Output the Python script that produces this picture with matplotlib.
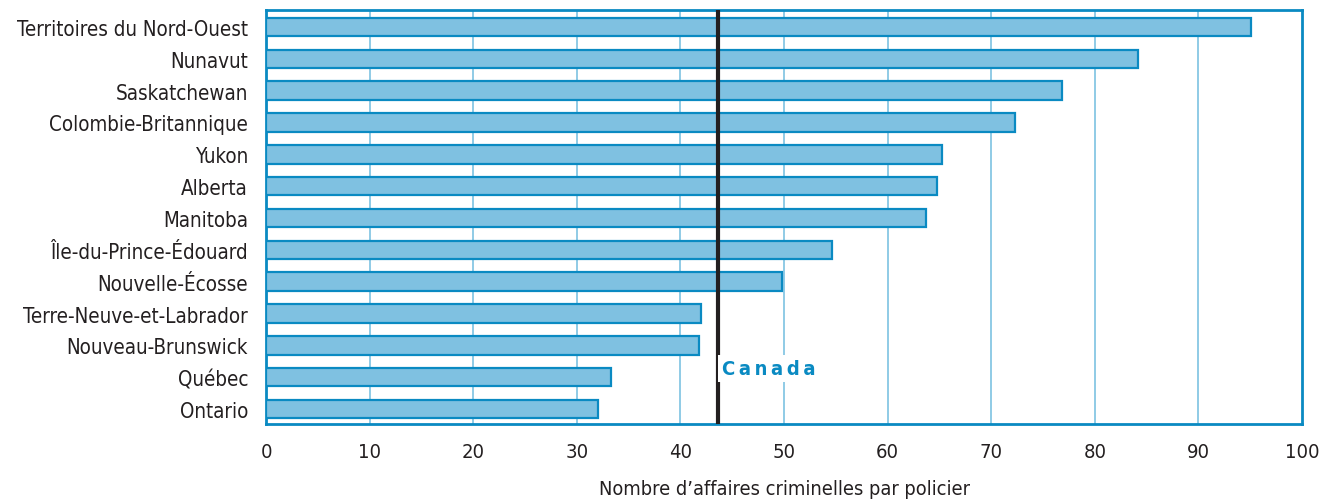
import matplotlib
matplotlib.use("Agg")
import matplotlib.pyplot as plt
from matplotlib import font_manager

provinces = [
    "Territoires du Nord-Ouest", "Nunavut", "Saskatchewan", "Colombie-Britannique",
    "Yukon", "Alberta", "Manitoba", "Île-du-Prince-Édouard", "Nouvelle-Écosse",
    "Terre-Neuve-et-Labrador", "Nouveau-Brunswick", "Québec", "Ontario",
]
cases_per_officer = [95.1, 84.2, 76.8, 72.3, 65.2, 64.8, 63.7, 54.6, 49.8, 42.0, 41.8, 33.3, 32.0]
canada_value = 43.6
x_ticks = [0, 10, 20, 30, 40, 50, 60, 70, 80, 90, 100]
x_label = "Nombre d\u2019affaires criminelles par policier"

# the original uses a condensed grotesque, take a narrow face if one is there
names = {f.name for f in font_manager.fontManager.ttflist}
family = "Liberation Sans Narrow" if "Liberation Sans Narrow" in names else "DejaVu Sans"
plt.rcParams["font.family"] = [family, "DejaVu Sans"]
plt.rcParams["font.stretch"] = "condensed"

frame_blue = "#0a8ac2"
bar_fill = "#7fc1e1"
grid_blue = "#8fcbe6"
text_col = "#231f20"

fig = plt.figure(figsize=(13.35, 5.02), dpi=100)
ax = fig.add_axes([0.1993, 0.1534, 0.776, 0.8246])

ypos = list(range(len(provinces)))
ax.barh(ypos, cases_per_officer, height=0.58, color=bar_fill,
        edgecolor=frame_blue, linewidth=1.6, zorder=3)

ax.set_xlim(0, 100)
ax.set_ylim(12.47, -0.53)
ax.set_xticks(x_ticks)
ax.set_xticklabels([str(t) for t in x_ticks], fontsize=14.5, color=text_col)
ax.set_yticks(ypos)
ax.set_yticklabels(provinces, fontsize=14.8, color=text_col)
ax.tick_params(axis="y", length=0, pad=13)
ax.tick_params(axis="x", length=0, pad=13)

for t in x_ticks[1:-1]:
    ax.axvline(t, color=grid_blue, linewidth=1.4, zorder=1)

for side in ax.spines.values():
    side.set_color(frame_blue)
    side.set_linewidth(2)

ax.axvline(canada_value, color="#231f20", linewidth=3, zorder=4)
ax.text(canada_value + 0.45, 10.72, "C\u2009a\u2009n\u2009a\u2009d\u2009a", color=frame_blue,
        fontsize=14.5, fontweight="bold", va="center", ha="left", zorder=5,
        bbox=dict(facecolor="white", edgecolor="none", pad=3))

ax.set_xlabel(x_label, fontsize=14.3, color=text_col, labelpad=13)

fig.savefig("out.png", dpi=100)
